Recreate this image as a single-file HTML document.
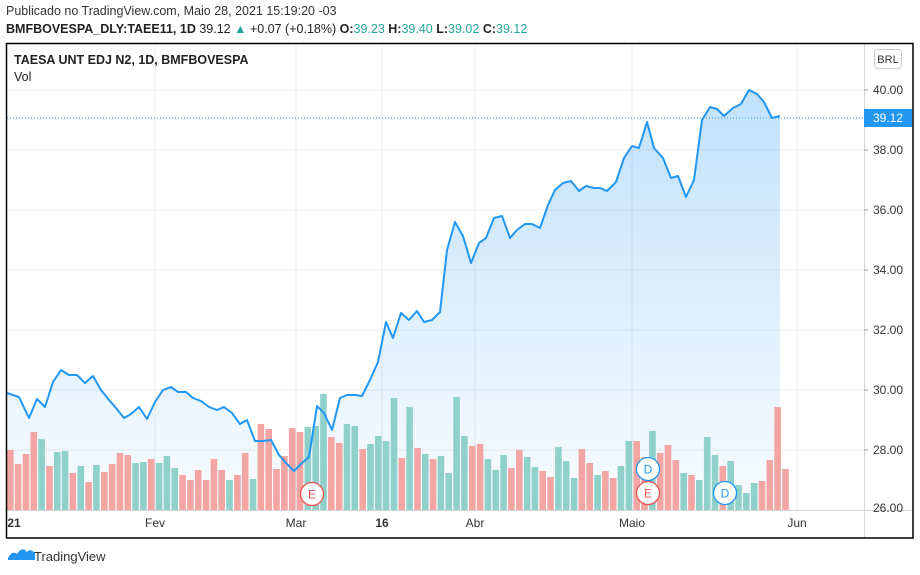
<!DOCTYPE html>
<html><head><meta charset="utf-8"><style>
body{margin:0;width:920px;height:575px;background:#fff;font-family:"Liberation Sans",sans-serif;overflow:hidden;position:relative}
.t{position:absolute;white-space:nowrap}
</style></head><body>
<div class="t" style="left:6px;top:4px;font-size:12.5px;color:#333">Publicado no TradingView.com, Maio 28, 2021 15:19:20 -03</div>
<div class="t" style="left:6px;top:22px;font-size:12.5px;color:#222"><b>BMFBOVESPA_DLY:TAEE11, 1D</b> 39.12 <span style="color:#26a69a">▲</span> +0.07 (+0.18%) <b>O:</b><span style="color:#26a69a">39.23</span> <b>H:</b><span style="color:#26a69a">39.40</span> <b>L:</b><span style="color:#26a69a">39.02</span> <b>C:</b><span style="color:#26a69a">39.12</span></div>
<svg width="920" height="575" style="position:absolute;left:0;top:0" xmlns="http://www.w3.org/2000/svg">
<defs><linearGradient id="g" x1="0" y1="0" x2="0" y2="1"><stop offset="0" stop-color="#2196f3" stop-opacity="0.28"/><stop offset="1" stop-color="#2196f3" stop-opacity="0.03"/></linearGradient></defs>
<g stroke="#ececec" stroke-width="1">
<line x1="7" x2="864" y1="90" y2="90"/><line x1="7" x2="864" y1="150" y2="150"/><line x1="7" x2="864" y1="210" y2="210"/><line x1="7" x2="864" y1="270" y2="270"/><line x1="7" x2="864" y1="330" y2="330"/><line x1="7" x2="864" y1="390" y2="390"/><line x1="7" x2="864" y1="450" y2="450"/>
<line x1="155" x2="155" y1="44" y2="510"/><line x1="296" x2="296" y1="44" y2="510"/><line x1="382" x2="382" y1="44" y2="510"/><line x1="475" x2="475" y1="44" y2="510"/><line x1="632" x2="632" y1="44" y2="510"/><line x1="797" x2="797" y1="44" y2="510"/>
</g>
<polygon fill="url(#g)" points="7,393 19,397 29,418 37,399 45,407 53,382 61,370 69,375 77,375 85,383 93,376 101,390 109,400 116,408 124,418 131,414 139,407 147,419 155,402 163,390 171,387 178,392 186,392 193,398 201,401 209,407 217,410 224,407 232,413 240,424 247,420 255,441 263,441 271,440 279,455 286,463 294,471 302,463 309,457 317,406 324,413 332,430 340,398 347,395 355,395 362,396 370,380 378,362 386,322 393,338 401,313 409,320 417,311 424,322 432,320 440,312 447,250 455,222 463,236 471,263 479,243 486,238 494,218 502,216 510,238 517,230 525,224 532,224 540,228 548,205 555,190 563,183 571,181 579,191 586,186 594,188 600,188 607,191 616,182 624,158 632,146 639,148 647,122 654,148 663,158 671,178 678,176 686,197 694,180 702,120 710,107 717,109 724,116 733,108 741,104 749,90 757,94 764,102 772,118 780,116 780,510 7,510"/>
<g id="bars"></g>
<polyline fill="none" stroke="#2196f3" stroke-width="2" stroke-linejoin="round" points="7,393 19,397 29,418 37,399 45,407 53,382 61,370 69,375 77,375 85,383 93,376 101,390 109,400 116,408 124,418 131,414 139,407 147,419 155,402 163,390 171,387 178,392 186,392 193,398 201,401 209,407 217,410 224,407 232,413 240,424 247,420 255,441 263,441 271,440 279,455 286,463 294,471 302,463 309,457 317,406 324,413 332,430 340,398 347,395 355,395 362,396 370,380 378,362 386,322 393,338 401,313 409,320 417,311 424,322 432,320 440,312 447,250 455,222 463,236 471,263 479,243 486,238 494,218 502,216 510,238 517,230 525,224 532,224 540,228 548,205 555,190 563,183 571,181 579,191 586,186 594,188 600,188 607,191 616,182 624,158 632,146 639,148 647,122 654,148 663,158 671,178 678,176 686,197 694,180 702,120 710,107 717,109 724,116 733,108 741,104 749,90 757,94 764,102 772,118 780,116"/>
<line x1="7" x2="864" y1="118" y2="118" stroke="#2196f3" stroke-width="1" stroke-dasharray="1,2"/>
<line x1="7" x2="913" y1="510.5" y2="510.5" stroke="#d6d6d6"/>
<line x1="864.5" x2="864.5" y1="44" y2="538" stroke="#d6d6d6"/>
<g fill="#fff" stroke-width="1.3" font-size="12" text-anchor="middle">
<circle cx="312" cy="494" r="11.5" stroke="#ef5350"/><text x="312" y="498.5" fill="#ef5350" stroke="none">E</text>
<circle cx="648" cy="493" r="11.5" stroke="#ef5350"/><text x="648" y="497.5" fill="#ef5350" stroke="none">E</text>
<circle cx="648" cy="469" r="11.5" stroke="#2196f3"/><text x="648" y="473.5" fill="#2196f3" stroke="none">D</text>
<circle cx="725" cy="493" r="11.5" stroke="#2196f3"/><text x="725" y="497.5" fill="#2196f3" stroke="none">D</text>
</g>
<g font-size="12" fill="#333">
<text x="873" y="94">40.00</text><text x="873" y="154">38.00</text><text x="873" y="214">36.00</text><text x="873" y="274">34.00</text><text x="873" y="334">32.00</text><text x="873" y="394">30.00</text><text x="873" y="454">28.00</text><text x="873" y="512">26.00</text>
</g>
<g stroke="#999"><line x1="864" x2="868" y1="90" y2="90"/><line x1="864" x2="868" y1="150" y2="150"/><line x1="864" x2="868" y1="210" y2="210"/><line x1="864" x2="868" y1="270" y2="270"/><line x1="864" x2="868" y1="330" y2="330"/><line x1="864" x2="868" y1="390" y2="390"/><line x1="864" x2="868" y1="450" y2="450"/></g>
<rect x="864" y="109" width="48" height="18" fill="#2196f3"/>
<text x="873" y="122" font-size="12" fill="#fff">39.12</text>
<rect x="874.5" y="49.5" width="27" height="19" rx="3" fill="#fff" stroke="#ccc"/>
<text x="888" y="63" font-size="11" fill="#333" text-anchor="middle">BRL</text>
<g font-size="12" fill="#333" text-anchor="middle">
<text x="14" y="527" font-weight="bold">21</text><text x="155" y="527">Fev</text><text x="296" y="527">Mar</text><text x="382" y="527" font-weight="bold">16</text><text x="475" y="527">Abr</text><text x="632" y="527">Maio</text><text x="797" y="527">Jun</text>
</g>
<rect x="6.5" y="43.5" width="906.5" height="494.5" fill="none" stroke="#000" stroke-width="1.5"/>
<path d="M8,558 q4,-8 9,-4 q5,-8 10,-2 q3,-4 8,1 l0,7 l-27,0z" fill="#2196f3"/>
<text x="34" y="561" font-size="13" fill="#333">TradingView</text>
</svg>
<div class="t" style="left:14px;top:53px;font-size:12.5px;color:#222;font-weight:bold">TAESA UNT EDJ N2, 1D, BMFBOVESPA</div>
<div class="t" style="left:14px;top:70px;font-size:12.5px;color:#222">Vol</div>
<script>
var d="r450 r464 r454 r432 g439 r466 g452 g451 r473 g466 r482 g465 r472 r464 r453 r455 g463 g462 r459 g463 g456 g468 r475 r480 r470 r480 r459 r470 g480 r475 r453 g479 r424 r429 r469 r456 r428 r432 g427 g426 g394 r437 r443 g424 g426 r449 g444 g436 g441 g398 r458 g407 r448 g454 r459 g456 g473 g397 g436 r446 r444 g459 g470 g455 r468 r450 g457 g467 r471 r477 g447 g461 g478 r449 r463 g475 r471 r478 g466 g441 r441 r457 g431 r453 r445 r460 g473 r475 g480 g437 g455 r466 g461 g485 g493 g483 r481 r460 r407 r469".split(" ");
var s="";d.forEach(function(v,i){var y=+v.slice(1),x=7+i*7.83;s+='<rect x="'+(x).toFixed(1)+'" y="'+y+'" width="6.6" height="'+(510-y)+'" fill="'+(v[0]=="r"?"#f2a5a3":"#8fd1ca")+'"/>';});
document.getElementById("bars").innerHTML=s;
</script>
</body></html>
